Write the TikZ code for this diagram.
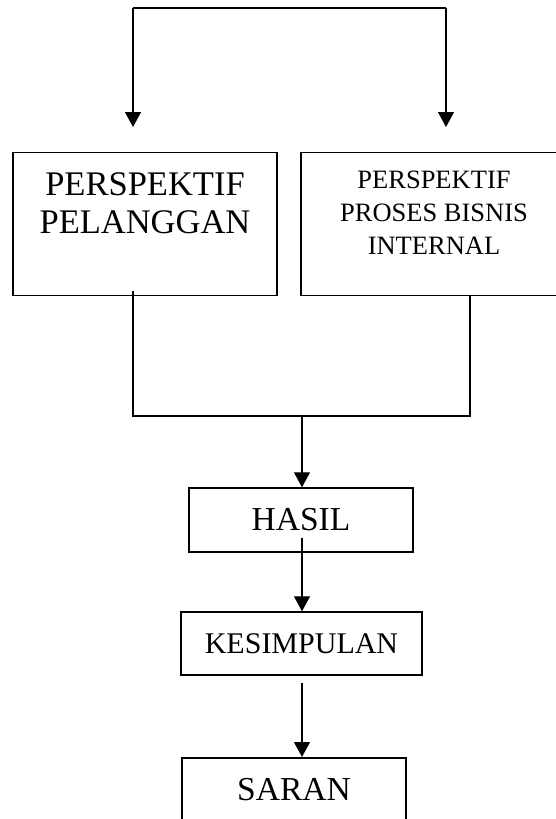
\documentclass[tikz,border=0pt]{standalone}
\usepackage{fontspec}
\setmainfont{Liberation Serif}
\usetikzlibrary{arrows.meta}
\begin{document}
\begin{tikzpicture}[x=1pt,y=-1pt,
  box/.style={draw, line width=1.5pt, inner sep=0pt, align=center},
  lbl/.style={inner sep=0pt, align=center},
  ln/.style={line width=1.3pt},
  arr/.style={line width=1.3pt, -{Triangle[length=15pt,width=16pt]}}]
\useasboundingbox (0,0) rectangle (556,819);
\clip (0,0) rectangle (556,819);
% boxes
\node[box, minimum width=264pt, minimum height=143pt] (b1) at (145,224.2) {};
\node[lbl, font=\fontsize{34.5}{38}\selectfont] (t1) at (145,203) {PERSPEKTIF\\PELANGGAN};
\node[box, minimum width=266pt, minimum height=143pt] (b2) at (434,224.2) {};
\node[lbl, font=\fontsize{26.5}{33}\selectfont] (t2) at (434,213) {PERSPEKTIF\\PROSES BISNIS\\INTERNAL};
\node[box, minimum width=224pt, minimum height=64pt, font=\fontsize{33.5}{38}\selectfont] (hasil) at (301,520) {HASIL};
\node[box, minimum width=241pt, minimum height=63pt, font=\fontsize{30}{36}\selectfont] (kes) at (301.5,643.5) {KESIMPULAN};
\node[box, minimum width=224pt, minimum height=64pt, font=\fontsize{33.5}{38}\selectfont] (saran) at (294,790) {SARAN};
% top connector
\coordinate (tl) at (133,8);
\coordinate (tr) at (446,8);
\coordinate (a1) at (133,127);
\coordinate (a2) at (446,127);
\draw[ln] (tl) -- (tr);
\draw[arr] (tl) -- (a1);
\draw[arr] (tr) -- (a2);
% merge connector
\coordinate (l1) at (133,291);
\coordinate (l2) at (133,416);
\coordinate (r1) at (470,296);
\coordinate (r2) at (470,416);
\coordinate (m) at (302,416);
\draw[ln] (l1) -- (l2) -- (r2) -- (r1);
\draw[arr] (m) -- (m |- hasil.north);
% lower arrows
\coordinate (h1) at (302,538);
\coordinate (k1) at (302,683);
\coordinate (s1) at (302,757);
\draw[arr] (h1) -- (h1 |- kes.north);
\draw[arr] (k1) -- (s1);
\end{tikzpicture}
\end{document}
